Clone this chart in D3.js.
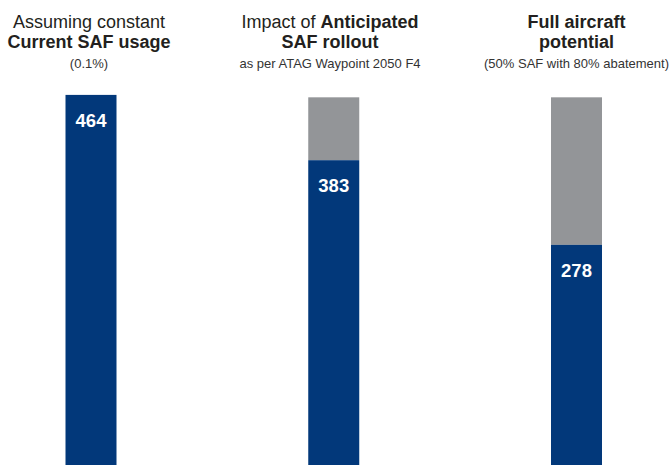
<!DOCTYPE html>
<html>
<head>
<meta charset="utf-8">
<script src="https://cdn.jsdelivr.net/npm/d3@7"></script>
<style>
  html, body { margin: 0; padding: 0; background: #fff; }
  svg { display: block; font-family: "Liberation Sans", Arial, sans-serif; }
</style>
</head>
<body>
<svg id="chart" width="672" height="465"></svg>
<script>
// Scenario columns
const categories = ["current", "anticipated", "full"];
// Remaining emissions per scenario (blue bars, labelled)
const remaining = [464, 383, 278];
// Reference level shown in grey behind the reduced scenarios
const reference = [null, 461, 461];
// Heading lines: each line is a list of [text, bold] runs
const titleLines = [
  [[["Assuming constant", false]], [["Current SAF usage", true]]],
  [[["Impact of ", false], ["Anticipated", true]], [["SAF rollout", true]]],
  [[["Full aircraft", true]], [["potential", true]]]
];
const subtitles = ["(0.1%)", "as per ATAG Waypoint 2050 F4", "(50% SAF with 80% abatement)"];

const blue = "#02387a", grey = "#939598", ink = "#231f20";

const svg = d3.select("#chart");

const x = d3.scalePoint().domain(categories).range([91, 576.5]);
const barW = 51;
const y = d3.scaleLinear().domain([0, 480]).range([469, 82]);

// grey reference segments
svg.selectAll("rect.ref")
  .data(categories.map((c, i) => ({ c, top: reference[i], bot: remaining[i] })).filter(d => d.top != null))
  .join("rect")
  .attr("class", "ref")
  .attr("x", d => x(d.c) - barW / 2)
  .attr("width", barW)
  .attr("y", d => y(d.top))
  .attr("height", d => y(d.bot) - y(d.top))
  .attr("fill", grey);

// blue remaining bars
svg.selectAll("rect.rem")
  .data(categories.map((c, i) => ({ c, v: remaining[i] })))
  .join("rect")
  .attr("class", "rem")
  .attr("x", d => x(d.c) - barW / 2)
  .attr("width", barW)
  .attr("y", d => y(d.v))
  .attr("height", d => y(0) - y(d.v))
  .attr("fill", blue);

// value labels inside the bars
svg.selectAll("text.val")
  .data(categories.map((c, i) => ({ c, v: remaining[i] })))
  .join("text")
  .attr("class", "val")
  .attr("x", d => x(d.c))
  .attr("y", d => y(d.v) + 32)
  .attr("text-anchor", "middle")
  .attr("fill", "#fff")
  .attr("font-size", 18.5)
  .attr("font-weight", "bold")
  .text(d => d.v);

// headings
const titleX = [89, 330, 576.5];
const lineY = [28, 48];
categories.forEach((c, i) => {
  titleLines[i].forEach((runs, li) => {
    const t = svg.append("text")
      .attr("x", titleX[i])
      .attr("y", lineY[li])
      .attr("text-anchor", "middle")
      .attr("font-size", 18)
      .attr("fill", ink);
    runs.forEach(([txt, bold]) => {
      t.append("tspan")
        .attr("font-weight", bold ? "bold" : "normal")
        .text(txt);
    });
  });
  svg.append("text")
    .attr("x", titleX[i])
    .attr("y", 68)
    .attr("text-anchor", "middle")
    .attr("font-size", 13)
    .attr("fill", "#333")
    .text(subtitles[i]);
});
</script>
</body>
</html>
